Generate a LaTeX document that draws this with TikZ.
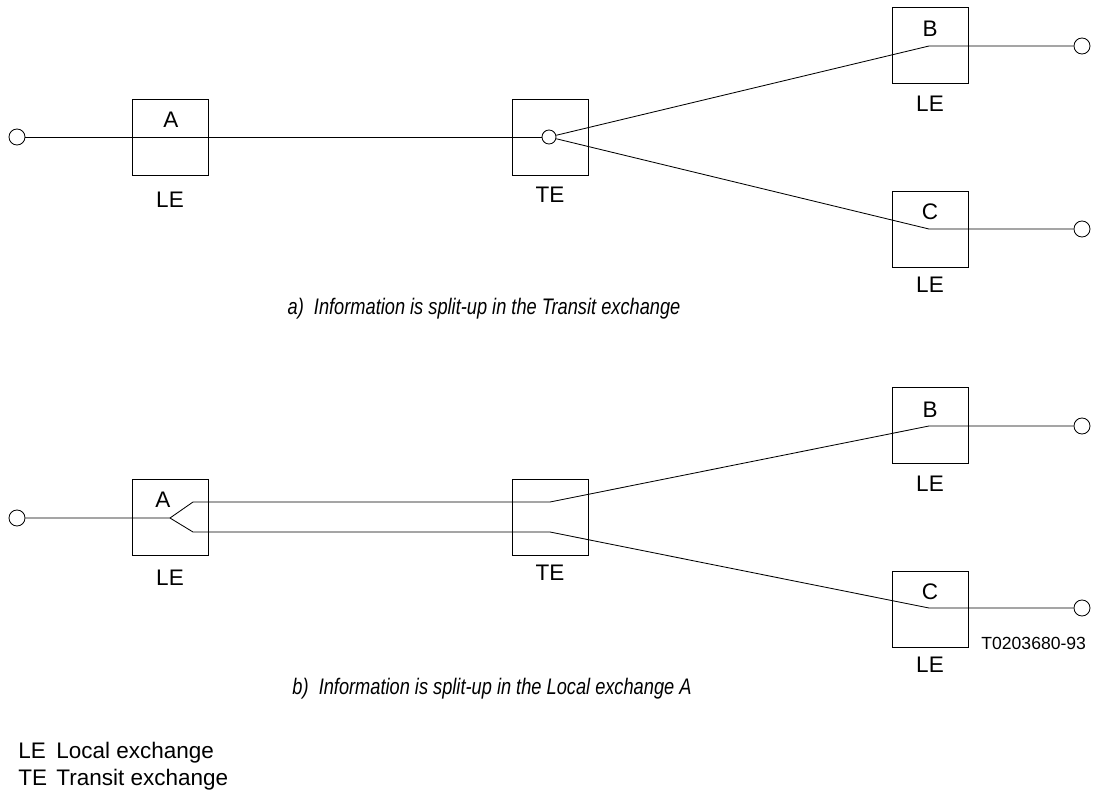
\documentclass[tikz,border=0pt]{standalone}
\usepackage{fontspec}
\setmainfont{Liberation Sans}
\usetikzlibrary{positioning}

\begin{document}
\begin{tikzpicture}[
    x=0.025cm, y=-0.025cm,
    line width=0.6pt,
    exch/.style={rectangle, draw, minimum size=1.9cm, inner sep=0pt},
    term/.style={circle, draw, fill=white, minimum size=0.4cm, inner sep=0pt},
    lbl/.style={font=\fontsize{16}{19}\selectfont, inner sep=0pt},
    caption/.style={font=\fontsize{16}{19}\selectfont\itshape, inner sep=0pt, anchor=base},
    key/.style={font=\fontsize{16}{19}\selectfont, inner sep=0pt, anchor=base west}
]
    \useasboundingbox (0,0) rectangle (1093,791);

    % a) Split-up in the transit exchange
    \node [term] (ta1) at (17,137) {};
    \node [exch] (a1) at (170,137) {};
    \node [exch] (te1) at (550,137) {};
    \node [term, minimum size=0.35cm] (s1) at (549,137) {};
    \node [exch] (b1) at (930,45) {};
    \node [exch] (c1) at (930,229) {};
    \node [term] (tb1) at (1082,46) {};
    \node [term] (tc1) at (1082,229) {};
    \coordinate (b1p) at (929,46);
    \coordinate (c1p) at (929,229);

    \draw (ta1) -- (s1);
    \draw (s1) -- (b1p) -- (tb1);
    \draw (s1) -- (c1p) -- (tc1);

    \node [lbl] (a1n) at (171,120) {A};
    \node [lbl] (b1n) at (930,29) {B};
    \node [lbl] (c1n) at (930,212) {C};
    \node [lbl] (a1t) at (170,200) {LE};
    \node [lbl] (te1t) at (550,195) {TE};
    \node [lbl] (b1t) at (930,104) {LE};
    \node [lbl] (c1t) at (930,285) {LE};
    \node [caption] (capa) at (484,314) {\scalebox{0.81}[1]{a)\ \ Information is split-up in the Transit exchange}};

    % b) Split-up in the local exchange A
    \node [term] (ta2) at (17,518) {};
    \node [exch] (a2) at (170,517) {};
    \node [exch] (te2) at (550,517) {};
    \node [exch] (b2) at (930,425) {};
    \node [exch] (c2) at (930,609) {};
    \node [term] (tb2) at (1082,426) {};
    \node [term] (tc2) at (1082,608) {};
    \coordinate (f2) at (170,518);
    \coordinate (f2u) at (193,502);
    \coordinate (f2d) at (193,532);
    \coordinate (te2u) at (550,502);
    \coordinate (te2d) at (550,532);
    \coordinate (b2p) at (929,426);
    \coordinate (c2p) at (929,608);

    \draw (ta2) -- (f2) -- (f2u) -- (te2u) -- (b2p) -- (tb2);
    \draw (f2) -- (f2d) -- (te2d) -- (c2p) -- (tc2);

    \node [lbl] (a2n) at (163,500) {A};
    \node [lbl] (b2n) at (930,410) {B};
    \node [lbl] (c2n) at (930,592) {C};
    \node [lbl] (a2t) at (170,578) {LE};
    \node [lbl] (te2t) at (550,573) {TE};
    \node [lbl] (b2t) at (930,484) {LE};
    \node [lbl] (c2t) at (930,665) {LE};
    \node [key, font=\fontsize{12.5}{15}\selectfont] (ref) at (981,649) {T0203680-93};
    \node [caption] (capb) at (492,694) {\scalebox{0.81}[1]{b)\ \ Information is split-up in the Local exchange A}};

    % Legend
    \node [key] (k1) at (18,758) {LE};
    \node [key] (k1t) at (56,758) {Local exchange};
    \node [key] (k2) at (18,785) {TE};
    \node [key] (k2t) at (56,785) {Transit exchange};
\end{tikzpicture}
\end{document}
